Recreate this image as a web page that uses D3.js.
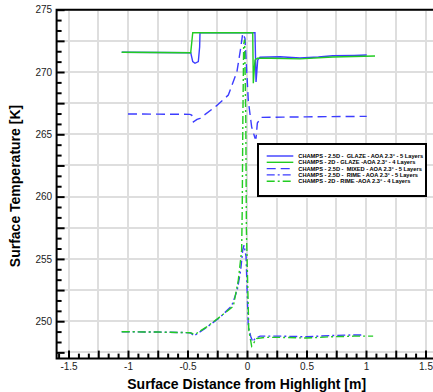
<!DOCTYPE html>
<html>
<head>
<meta charset="utf-8">
<script src="https://cdn.jsdelivr.net/npm/d3@7"></script>
<style>
  body { margin: 0; background: #fff; }
  svg { display: block; font-family: "Liberation Sans", Arial, sans-serif; }
</style>
</head>
<body>
<div class="chart"></div>
<script>
// values
const glaze25X = [-1.053, -0.75, -0.473, -0.456, -0.437, -0.409, -0.398, -0.395, 0.061, 0.067, 0.076, 0.09, 0.109, 0.277, 0.445, 0.6, 0.72, 0.9, 1.006];
const glaze25T = [271.58, 271.56, 271.55, 270.83, 270.7, 270.83, 272.0, 273.15, 273.15, 273.15, 269.2, 270.96, 271.18, 271.23, 271.12, 271.2, 271.3, 271.33, 271.36];

const glaze2X = [-1.053, -0.75, -0.473, -0.456, 0.048, 0.053, 0.067, 0.087, 0.2, 0.445, 0.72, 0.9, 1.076];
const glaze2T = [271.58, 271.56, 271.55, 273.15, 273.15, 269.1, 270.96, 271.1, 271.1, 271.05, 271.2, 271.25, 271.28];

const mixedX = [-1.0, -0.75, -0.48, -0.465, -0.45, -0.42, -0.395, -0.255, -0.157, -0.085, -0.055, -0.036, -0.017, 0.011, 0.039, 0.067, 0.076, 0.087, 0.12, 0.3, 0.5, 0.7, 1.006];
const mixedT = [266.63, 266.62, 266.6, 266.55, 266.0, 266.2, 266.28, 267.3, 268.15, 270.0, 271.8, 273.1, 272.7, 267.7, 265.6, 264.7, 264.7, 265.9, 266.36, 266.38, 266.4, 266.42, 266.44];

const rime25X = [-1.053, -0.75, -0.48, -0.465, -0.45, -0.42, -0.339, -0.227, -0.129, -0.082, -0.053, -0.036, -0.025, -0.008, 0.011, 0.031, 0.048, 0.067, 0.11, 0.3, 0.5, 0.7, 0.9, 0.98];
const rime25T = [249.16, 249.13, 249.08, 249.0, 248.84, 248.98, 249.51, 250.31, 251.22, 252.5, 254.1, 255.7, 256.1, 255.2, 249.56, 248.8, 248.35, 248.6, 248.8, 248.8, 248.75, 248.85, 248.9, 248.9];

const rime2X = [-1.053, -0.75, -0.48, -0.465, -0.45, -0.42, -0.339, -0.227, -0.115, -0.073, -0.045, -0.04, -0.035, -0.028, -0.02, -0.01, -0.005, 0.015, 0.039, 0.06, 0.08, 0.15, 0.3, 0.5, 0.7, 0.9, 1.06];
const rime2T = [249.16, 249.13, 249.08, 249.05, 248.95, 249.05, 249.55, 250.35, 251.2, 253.3, 255.7, 259, 266, 272.2, 272.6, 266, 257.3, 249.3, 248.0, 248.3, 248.6, 248.7, 248.7, 248.65, 248.75, 248.8, 248.8];

const seriesNames = [
  'CHAMPS - 2.5D -  GLAZE - AOA 2.3\u00b0 - 5 Layers',
  'CHAMPS - 2D - GLAZE -AOA 2.3\u00b0 - 4 Layers',
  'CHAMPS - 2.5D -  MIXED - AOA 2.3\u00b0 - 5 Layers',
  'CHAMPS - 2.5D -  RIME - AOA 2.3\u00b0 - 5 Layers',
  'CHAMPS - 2D - RIME -AOA 2.3\u00b0 - 4 Layers'
];
const xTickLabels = [-1.5, -1, -0.5, 0, 0.5, 1, 1.5];
const yTickLabels = [250, 255, 260, 265, 270, 275];

const blue = '#3c3cff';
const green = '#22cc22';

const series = [
  {x: glaze25X, y: glaze25T, color: blue, dash: null},
  {x: glaze2X, y: glaze2T, color: green, dash: null},
  {x: mixedX, y: mixedT, color: blue, dash: '9,5'},
  {x: rime25X, y: rime25T, color: blue, dash: '8,3,2,3'},
  {x: rime2X, y: rime2T, color: green, dash: '8,3,2,3'}
];

const W = 433, H = 392;
const svg = d3.select('.chart').append('svg')
  .attr('width', W).attr('height', H);

const x = d3.scaleLinear().domain([-1.6, 1.6]).range([56.6, 437.4]);
const y = d3.scaleLinear().domain([247, 275]).range([358.6, 9.7]);

// grid every 0.25 m and 2.5 K, drawn as thin rects
const xGrid = d3.range(-6, 7).map(k => k * 0.25);
const yGrid = d3.range(0, 12).map(k => 247.5 + k * 2.5);
const grid = svg.append('g');
grid.selectAll('rect.gx').data(xGrid).enter().append('rect')
  .attr('class', 'gx')
  .attr('x', d => Math.round(x(d)) - 1).attr('width', 2)
  .attr('y', y(275)).attr('height', y(247) - y(275))
  .attr('fill', '#dedede');
grid.selectAll('rect.gy').data(yGrid).enter().append('rect')
  .attr('class', 'gy')
  .attr('x', x(-1.6)).attr('width', x(1.6) - x(-1.6))
  .attr('y', d => Math.round(y(d)) - 1).attr('height', 2)
  .attr('fill', '#dedede');

// curves
const line = d3.line().x(d => x(d[0])).y(d => y(d[1]));
series.forEach(s => {
  svg.append('path')
    .datum(s.x.map((v, i) => [v, s.y[i]]))
    .attr('d', line)
    .attr('fill', 'none')
    .attr('stroke', s.color)
    .attr('stroke-width', 1.4)
    .attr('stroke-dasharray', s.dash);
});

// axes: major ticks on the grid, 2 minor ticks between
const xMinor = d3.range(-19, 20).filter(k => k % 3 !== 0).map(k => k / 12);
const yMinor = d3.range(-1, 34).filter(k => k % 3 !== 0)
  .map(k => 247.5 + k * 2.5 / 3).filter(v => v > 247 && v < 275);

const xAxis = d3.axisBottom(x)
  .tickValues(xGrid)
  .tickSize(-8)
  .tickPadding(4.5)
  .tickFormat(d => xTickLabels.includes(d) ? String(d) : '');
svg.append('g').attr('transform', `translate(0,${y(247)})`).call(xAxis);
svg.append('g').attr('transform', `translate(0,${y(247)})`)
  .call(d3.axisBottom(x).tickValues(xMinor).tickSize(-5).tickFormat(''));

const yAxis = d3.axisLeft(y)
  .tickValues(yGrid)
  .tickSize(-8)
  .tickPadding(4.5)
  .tickFormat(d => yTickLabels.includes(d) ? String(d) : '');
svg.append('g').attr('transform', `translate(${x(-1.6)},0)`).call(yAxis);
svg.append('g').attr('transform', `translate(${x(-1.6)},0)`)
  .call(d3.axisLeft(y).tickValues(yMinor).tickSize(-5).tickFormat(''));

svg.selectAll('.domain').remove();
svg.selectAll('.tick line')
  .attr('stroke', '#000').attr('stroke-width', 2);
svg.selectAll('.tick text').attr('font-size', 10).attr('fill', '#222')
  .attr('font-family', '"Liberation Sans", Arial, sans-serif');

// frame
svg.append('path')
  .attr('d', `M${x(1.6)},${y(275)}H${x(-1.6)}V${y(247)}H${x(1.6)}`)
  .attr('fill', 'none').attr('stroke', '#000').attr('stroke-width', 2);

// titles
svg.append('text')
  .attr('x', 246.7).attr('y', 388.5)
  .attr('text-anchor', 'middle')
  .attr('font-size', 14).attr('font-weight', 'bold')
  .text('Surface Distance from Highlight [m]');
svg.append('text')
  .attr('transform', 'translate(19.5,186) rotate(-90)')
  .attr('text-anchor', 'middle')
  .attr('font-size', 14).attr('font-weight', 'bold')
  .text('Surface Temperature [K]');

// legend
const leg = svg.append('g');
leg.append('rect')
  .attr('x', 258).attr('y', 144).attr('width', 168).attr('height', 52)
  .attr('fill', '#fff').attr('stroke', '#000').attr('stroke-width', 2);
series.forEach((s, i) => {
  const ly = 156 + i * 6.3;
  leg.append('line')
    .attr('x1', 266.7).attr('x2', 293.3).attr('y1', ly).attr('y2', ly)
    .attr('stroke', s.color).attr('stroke-width', 1.4)
    .attr('stroke-dasharray', s.dash);
  leg.append('text')
    .attr('x', 298.3).attr('y', ly + 2)
    .attr('font-size', 5.7).attr('font-weight', 'bold')
    .style('white-space', 'pre')
    .text(seriesNames[i]);
});
</script>
</body>
</html>
